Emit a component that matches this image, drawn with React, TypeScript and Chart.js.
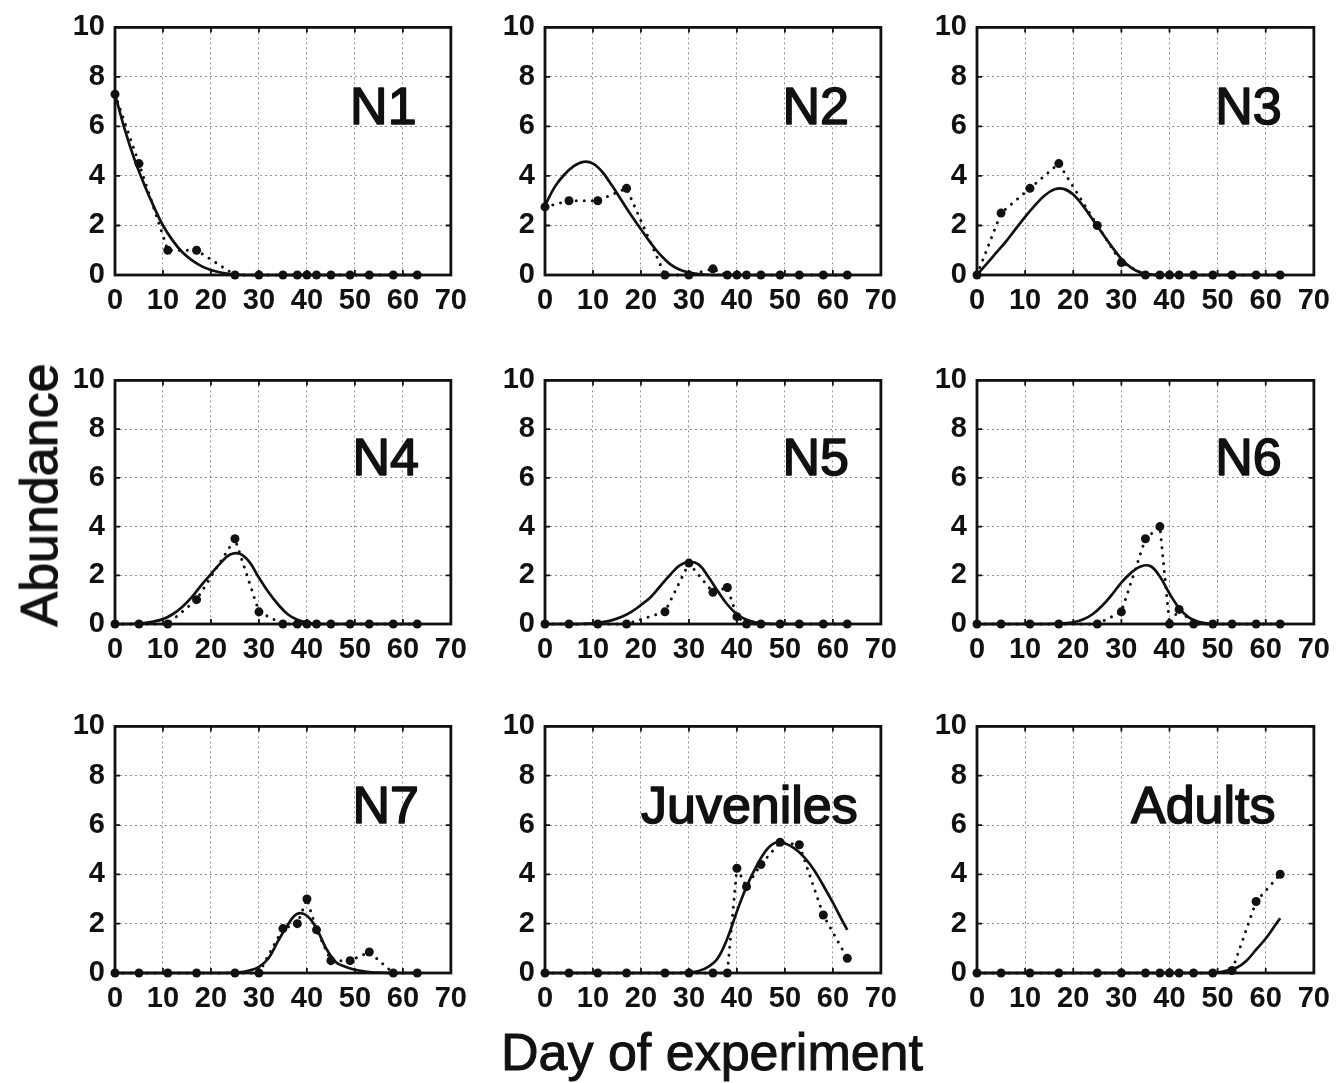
import { useEffect, useRef } from "react";
import { Chart, registerables } from "chart.js";

Chart.register(...registerables);

// Sampling days of the experiment (observed abundances)
const sampleDays = [0, 5, 11, 17, 25, 30, 35, 38, 40, 42, 45, 49, 53, 58, 63];

// Days at which the fitted model curves are tabulated
const modelDays = [
  0, 2, 4, 6, 8, 10, 12, 14, 16, 18, 20, 22, 24, 26, 28, 30, 32, 34, 36, 38,
  40, 42, 44, 46, 48, 50, 52, 54, 56, 58, 60, 62, 63,
];

// Axis ticks
const xTickValues = [0, 10, 20, 30, 40, 50, 60, 70];
const yTickValues = [0, 2, 4, 6, 8, 10];

// Observed abundance per stage
const obsN1 = [7.3, 4.5, 1.0, 1.0, 0, 0, 0, 0, 0, 0, 0, 0, 0, 0, 0];
const obsN2 = [2.75, 3.0, 3.0, 3.5, 0, 0, 0.25, 0, 0, 0, 0, 0, 0, 0, 0];
const obsN3 = [0, 2.5, 3.5, 4.5, 2.0, 0.5, 0, 0, 0, 0, 0, 0, 0, 0, 0];
const obsN4 = [0, 0, 0, 1.0, 3.5, 0.5, 0, 0, 0, 0, 0, 0, 0, 0, 0];
const obsN5 = [0, 0, 0, 0, 0.5, 2.5, 1.3, 1.5, 0.3, 0, 0, 0, 0, 0, 0];
const obsN6 = [0, 0, 0, 0, 0, 0.5, 3.5, 4.0, 0, 0.6, 0, 0, 0, 0, 0];
const obsN7 = [0, 0, 0, 0, 0, 0, 1.8, 2.0, 3.0, 1.75, 0.5, 0.5, 0.85, 0, 0];
const obsJuveniles = [0, 0, 0, 0, 0, 0, 0, 0, 4.25, 3.5, 4.4, 5.3, 5.2, 2.35, 0.6];
const obsAdults = [0, 0, 0, 0, 0, 0, 0, 0, 0, 0, 0, 0, 0.1, 2.9, 4.0];

// Model abundance per stage, on modelDays
const modelN1 = [
  7.3, 5.9, 4.7, 3.7, 2.8, 2.0, 1.4, 0.93, 0.6, 0.36, 0.2, 0.1, 0.04, 0.01, 0, 0, 0, 0, 0, 0,
  0, 0, 0, 0, 0, 0, 0, 0, 0, 0, 0, 0, 0,
];
const modelN2 = [
  2.8, 3.55, 4.05, 4.4, 4.57, 4.5, 4.15, 3.6, 3.0, 2.4, 1.85, 1.3, 0.82, 0.45, 0.22, 0.1, 0.04, 0.01, 0, 0,
  0, 0, 0, 0, 0, 0, 0, 0, 0, 0, 0, 0, 0,
];
const modelN3 = [
  0, 0.45, 0.9, 1.35, 1.85, 2.35, 2.8, 3.2, 3.45, 3.48, 3.25, 2.8, 2.25, 1.7, 1.15, 0.65, 0.3, 0.1, 0.03, 0,
  0, 0, 0, 0, 0, 0, 0, 0, 0, 0, 0, 0, 0,
];
const modelN4 = [
  0, 0, 0.01, 0.04, 0.1, 0.2, 0.4, 0.7, 1.1, 1.6, 2.05, 2.5, 2.85, 2.88, 2.55, 1.9, 1.3, 0.8, 0.4, 0.17,
  0.06, 0.01, 0, 0, 0, 0, 0, 0, 0, 0, 0, 0, 0,
];
const modelN5 = [
  0, 0, 0, 0, 0.01, 0.03, 0.08, 0.16, 0.3, 0.5, 0.78, 1.1, 1.55, 2.0, 2.4, 2.55, 2.45, 1.95, 1.35, 0.8,
  0.4, 0.17, 0.06, 0.02, 0, 0, 0, 0, 0, 0, 0, 0, 0,
];
const modelN6 = [
  0, 0, 0, 0, 0, 0, 0, 0, 0.01, 0.03, 0.07, 0.18, 0.4, 0.75, 1.2, 1.7, 2.1, 2.36, 2.38, 1.95,
  1.25, 0.65, 0.27, 0.09, 0.02, 0, 0, 0, 0, 0, 0, 0, 0,
];
const modelN7 = [
  0, 0, 0, 0, 0, 0, 0, 0, 0, 0, 0, 0, 0.01, 0.03, 0.1, 0.25, 0.6, 1.3, 1.95, 2.4,
  2.32, 1.8, 1.0, 0.45, 0.25, 0.13, 0.06, 0.02, 0.01, 0, 0, 0, 0,
];
const modelJuveniles = [
  0, 0, 0, 0, 0, 0, 0, 0, 0, 0, 0, 0, 0, 0, 0, 0.02, 0.08, 0.25, 0.6, 1.4,
  2.5, 3.5, 4.3, 4.95, 5.28, 5.25, 5.05, 4.7, 4.2, 3.55, 2.85, 2.1, 1.75,
];
const modelAdults = [
  0, 0, 0, 0, 0, 0, 0, 0, 0, 0, 0, 0, 0, 0, 0, 0, 0, 0, 0, 0,
  0, 0, 0, 0, 0, 0.02, 0.1, 0.22, 0.5, 0.95, 1.4, 1.95, 2.22,
];

type PanelDef = {
  name: string;
  obs: number[];
  model: number[];
  labelDay: number;
  col: number;
  row: number;
};

const panels: PanelDef[] = [
  { name: "N1", obs: obsN1, model: modelN1, labelDay: 49, col: 0, row: 0 },
  { name: "N2", obs: obsN2, model: modelN2, labelDay: 49.5, col: 1, row: 0 },
  { name: "N3", obs: obsN3, model: modelN3, labelDay: 49.5, col: 2, row: 0 },
  { name: "N4", obs: obsN4, model: modelN4, labelDay: 49.5, col: 0, row: 1 },
  { name: "N5", obs: obsN5, model: modelN5, labelDay: 49.5, col: 1, row: 1 },
  { name: "N6", obs: obsN6, model: modelN6, labelDay: 49.5, col: 2, row: 1 },
  { name: "N7", obs: obsN7, model: modelN7, labelDay: 49.5, col: 0, row: 2 },
  { name: "Juveniles", obs: obsJuveniles, model: modelJuveniles, labelDay: 20, col: 1, row: 2 },
  { name: "Adults", obs: obsAdults, model: modelAdults, labelDay: 32, col: 2, row: 2 },
];

// Plot-area geometry of the 3x3 grid
const plotLeft = [115, 545, 977];
const plotWidth = [339, 339, 340];
const plotTop = [18, 371, 717];
const plotHeight = [257, 253, 256];
const PAD_L = 100;
const PAD_T = 18;
const PAD_R = 22;
const PAD_B = 50;

const INK = "#111";
const FONT = "'Liberation Sans', 'Helvetica', Arial, sans-serif";

const framePlugin = {
  id: "frame",
  beforeDatasetsDraw(chart: any) {
    const { ctx, chartArea: a, scales } = chart;
    ctx.save();
    ctx.strokeStyle = INK;
    ctx.lineWidth = 1.8;
    ctx.beginPath();
    for (const v of xTickValues) {
      const px = scales.x.getPixelForValue(v);
      ctx.moveTo(px, a.top);
      ctx.lineTo(px, a.top + 5);
      ctx.moveTo(px, a.bottom);
      ctx.lineTo(px, a.bottom - 5);
    }
    for (const v of yTickValues) {
      const py = scales.y.getPixelForValue(v);
      ctx.moveTo(a.left, py);
      ctx.lineTo(a.left + 5, py);
      ctx.moveTo(a.right, py);
      ctx.lineTo(a.right - 5, py);
    }
    ctx.stroke();
    ctx.lineWidth = 2.8;
    ctx.strokeRect(a.left, a.top, a.right - a.left, a.bottom - a.top);
    ctx.restore();
  },
};

const stageLabelPlugin = {
  id: "stageLabel",
  afterDraw(chart: any, _args: any, opts: any) {
    const { ctx, scales } = chart;
    const x = scales.x.getPixelForValue(opts.day);
    const y = scales.y.getPixelForValue(opts.value);
    ctx.save();
    ctx.fillStyle = INK;
    ctx.strokeStyle = INK;
    ctx.lineWidth = 1.6;
    ctx.lineJoin = "round";
    ctx.font = `52px ${FONT}`;
    ctx.textAlign = "left";
    ctx.textBaseline = "alphabetic";
    ctx.fillText(opts.text, x, y);
    ctx.strokeText(opts.text, x, y);
    ctx.restore();
  },
};

function Panel({ def }: { def: PanelDef }) {
  const ref = useRef<HTMLCanvasElement | null>(null);
  const w = PAD_L + plotWidth[def.col] + PAD_R;
  const h = PAD_T + plotHeight[def.row] + PAD_B;

  useEffect(() => {
    if (!ref.current) return;
    const tickFont = { family: FONT, size: 29, weight: "bold" as const };
    const chart = new Chart(ref.current, {
      type: "line",
      data: {
        datasets: [
          {
            label: "model",
            data: modelDays.map((d, i) => ({ x: d, y: def.model[i] })),
            borderColor: INK,
            borderWidth: 2.7,
            pointRadius: 0,
            tension: 0.4,
            clip: false as any,
          },
          {
            label: "observed",
            data: sampleDays.map((d, i) => ({ x: d, y: def.obs[i] })),
            borderColor: INK,
            borderWidth: 3,
            borderDash: [0.01, 8],
            borderCapStyle: "round",
            pointRadius: 4.5,
            pointBorderWidth: 0,
            pointBackgroundColor: INK,
            clip: false as any,
          },
        ],
      },
      options: {
        animation: false,
        responsive: false,
        maintainAspectRatio: false,
        events: [],
        layout: { padding: { top: PAD_T, right: PAD_R, left: 0, bottom: 0 } },
        plugins: {
          legend: { display: false },
          tooltip: { enabled: false },
          stageLabel: { text: def.name, day: def.labelDay, value: 6.1 },
        } as any,
        scales: {
          x: {
            type: "linear",
            min: 0,
            max: 70,
            ticks: {
              stepSize: 10,
              autoSkip: false,
              maxRotation: 0,
              font: tickFont,
              color: INK,
              padding: 9,
            },
            grid: { color: "rgba(40,40,40,0.5)", lineWidth: 1, drawTicks: false },
            border: { display: false, dash: [2, 3] },
            afterFit: (s: any) => {
              s.height = PAD_B;
            },
          },
          y: {
            type: "linear",
            min: 0,
            max: 10,
            ticks: {
              stepSize: 2,
              font: tickFont,
              color: INK,
              padding: 10,
            },
            grid: { color: "rgba(40,40,40,0.5)", lineWidth: 1, drawTicks: false },
            border: { display: false, dash: [2, 3] },
            afterFit: (s: any) => {
              s.width = PAD_L;
            },
          },
        },
      },
      plugins: [framePlugin, stageLabelPlugin],
    });
    return () => chart.destroy();
  }, [def]);

  return (
    <canvas
      ref={ref}
      width={w}
      height={h}
      style={{
        position: "absolute",
        left: plotLeft[def.col] - PAD_L,
        top: plotTop[def.row] - PAD_T,
        width: w,
        height: h,
      }}
    />
  );
}

export default function App() {
  const titleStyle = {
    position: "absolute" as const,
    fontSize: 52,
    lineHeight: "52px",
    whiteSpace: "nowrap" as const,
    WebkitTextStroke: "1px #111",
  };
  return (
    <div
      style={{
        position: "absolute",
        left: 0,
        top: 0,
        width: 1342,
        height: 1083,
        background: "#fff",
        overflow: "hidden",
        fontFamily: FONT,
        color: INK,
      }}
    >
      {panels.map((p) => (
        <Panel key={p.name} def={p} />
      ))}
      <div
        style={{
          ...titleStyle,
          left: 39,
          top: 495,
          transform: "translate(-50%, -50%) rotate(-90deg)",
        }}
      >
        Abundance
      </div>
      <div
        style={{
          ...titleStyle,
          left: 712,
          top: 1026,
          transform: "translateX(-50%)",
        }}
      >
        Day of experiment
      </div>
    </div>
  );
}
